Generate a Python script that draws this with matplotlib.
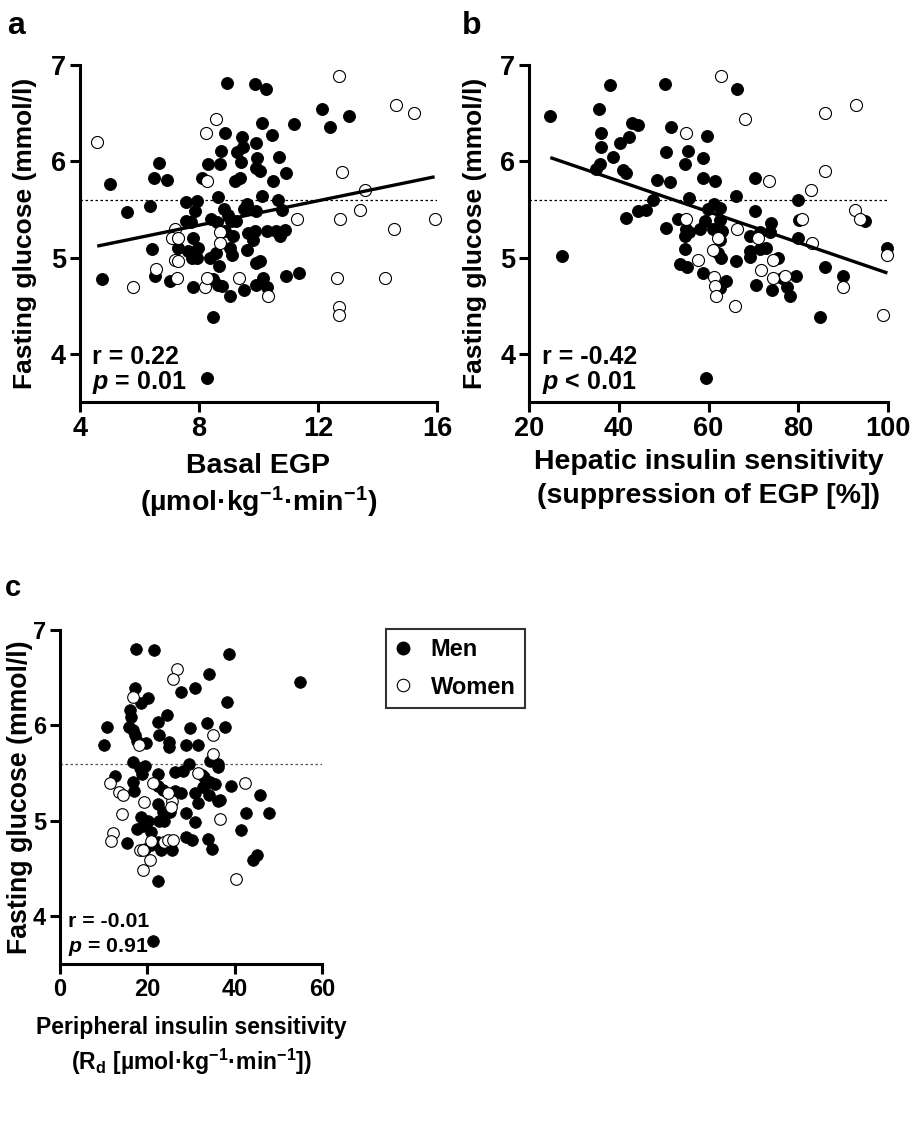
import matplotlib
matplotlib.use("Agg")
import matplotlib.pyplot as plt
from matplotlib.lines import Line2D
from matplotlib import font_manager
import numpy as np

plt.rcParams['font.family'] = ['Liberation Sans', 'DejaVu Sans']
plt.rcParams['font.weight'] = 'bold'
plt.rcParams['mathtext.fontset'] = 'custom'
plt.rcParams['mathtext.rm'] = 'Liberation Sans:bold'
plt.rcParams['mathtext.bf'] = 'Liberation Sans:bold'
plt.rcParams['mathtext.it'] = 'Liberation Sans:italic:bold'
plt.rcParams['mathtext.default'] = 'rm'

# ---- panel a: basal EGP vs fasting glucose ----
men_a_x = [8.93, 9.89, 10.24, 12.13, 12.42, 13.05, 11.19, 10.12, 10.47, 8.87, 9.44, 9.49,
           9.93, 8.74, 9.29, 9.94, 10.69, 8.32, 8.72, 9.42, 9.93, 10.05, 10.91, 6.65, 6.50,
           6.91, 5.01, 8.11, 9.21, 9.39, 10.49, 10.11, 8.63, 7.55, 7.94, 10.65, 6.35, 5.57,
           7.88, 8.83, 9.60, 9.52, 9.91, 10.78, 8.96, 9.07, 9.24, 8.42, 7.73, 7.58, 8.61,
           9.89, 9.66, 8.87, 10.27, 10.60, 10.88, 9.15, 9.80, 10.72, 7.81, 7.31, 7.98, 6.41,
           9.03, 7.64, 9.62, 8.56, 9.12, 7.77, 7.95, 8.37, 9.91, 10.05, 8.67, 6.52, 4.75,
           7.03, 8.48, 8.65, 8.76, 7.81, 9.04, 9.52, 10.15, 9.93, 10.27, 10.91, 11.37, 8.46,
           8.28]
men_a_y = [6.81, 6.80, 6.75, 6.54, 6.36, 6.47, 6.39, 6.40, 6.27, 6.29, 6.25, 6.15,
           6.19, 6.11, 6.10, 6.04, 6.05, 5.97, 5.97, 5.99, 5.93, 5.90, 5.88, 5.98, 5.83,
           5.81, 5.77, 5.83, 5.80, 5.83, 5.80, 5.64, 5.63, 5.58, 5.59, 5.60, 5.54, 5.47,
           5.48, 5.51, 5.56, 5.51, 5.48, 5.50, 5.44, 5.38, 5.38, 5.40, 5.37, 5.38, 5.37,
           5.28, 5.26, 5.28, 5.28, 5.28, 5.29, 5.22, 5.18, 5.22, 5.20, 5.10, 5.10, 5.09,
           5.10, 5.07, 5.08, 5.05, 5.03, 5.00, 5.00, 5.00, 4.94, 4.97, 4.91, 4.81, 4.78,
           4.76, 4.78, 4.72, 4.71, 4.70, 4.60, 4.66, 4.79, 4.72, 4.70, 4.81, 4.84, 4.38,
           3.75]
women_a_x = [4.58, 12.71, 14.63, 15.23, 8.57, 8.25, 8.28, 12.81, 13.57, 13.40, 11.31, 12.73,
             15.92, 14.55, 7.21, 7.10, 7.30, 8.70, 8.70, 7.19, 7.30, 6.55, 7.27, 5.79, 8.19,
             8.28, 9.35, 10.31, 12.64, 14.24, 12.71, 12.71]
women_a_y = [6.20, 6.89, 6.59, 6.50, 6.44, 6.30, 5.80, 5.89, 5.70, 5.50, 5.40, 5.40,
             5.40, 5.30, 5.30, 5.20, 5.20, 5.27, 5.15, 4.98, 4.97, 4.88, 4.79, 4.70, 4.70,
             4.79, 4.79, 4.60, 4.79, 4.79, 4.49, 4.40]
fit_a = (0.0635, 4.829)   # slope, intercept

# ---- panel b: hepatic insulin sensitivity ----
men_b_x = [24.75, 27.28, 37.98, 50.39, 66.43, 35.60, 36.12, 35.97, 35.75, 35.01, 40.21, 42.21,
           42.88, 44.37, 38.63, 40.88, 41.71, 51.56, 59.75, 50.46, 55.37, 54.70, 58.78, 48.58,
           51.35, 58.86, 61.46, 70.30, 55.67, 66.21, 79.95, 47.56, 46.15, 44.29, 41.55, 59.90,
           61.26, 62.50, 70.45, 80.17, 94.89, 53.28, 59.15, 62.65, 74.01, 50.46, 54.92, 55.67,
           58.04, 61.00, 63.09, 71.41, 73.63, 54.70, 62.65, 69.18, 79.95, 54.70, 62.12, 62.87,
           69.33, 71.41, 72.90, 99.75, 69.18, 66.06, 75.49, 53.58, 55.29, 85.90, 58.86, 62.50,
           63.98, 70.52, 74.09, 76.32, 77.58, 78.11, 79.58, 89.99, 84.78, 59.52]
men_b_y = [6.47, 5.02, 6.79, 6.80, 6.75, 6.54, 6.29, 6.15, 5.97, 5.92, 6.19, 6.25,
           6.40, 6.38, 6.05, 5.91, 5.88, 6.36, 6.26, 6.10, 6.11, 5.97, 6.04, 5.81,
           5.79, 5.83, 5.80, 5.83, 5.62, 5.64, 5.60, 5.60, 5.49, 5.48, 5.41, 5.51,
           5.56, 5.52, 5.48, 5.39, 5.38, 5.40, 5.38, 5.39, 5.36, 5.31, 5.30, 5.27,
           5.30, 5.30, 5.28, 5.27, 5.27, 5.23, 5.18, 5.22, 5.20, 5.09, 5.05, 5.00,
           5.07, 5.09, 5.10, 5.10, 5.01, 4.96, 5.00, 4.93, 4.90, 4.90, 4.84, 4.68,
           4.76, 4.72, 4.66, 4.79, 4.69, 4.60, 4.81, 4.81, 4.38, 3.75]
women_b_x = [62.87, 68.14, 55.07, 92.81, 85.90, 73.42, 85.90, 82.78, 55.07, 92.73, 93.70, 80.92,
             66.36, 62.12, 71.04, 83.15, 61.01, 57.67, 74.41, 71.78, 61.23, 74.26, 76.98, 61.38,
             61.75, 65.84, 89.99, 99.86, 98.90]
women_b_y = [6.89, 6.44, 6.30, 6.59, 6.50, 5.80, 5.90, 5.70, 5.40, 5.49, 5.40, 5.40,
             5.30, 5.20, 5.20, 5.15, 5.08, 4.98, 4.98, 4.87, 4.80, 4.79, 4.81, 4.71,
             4.60, 4.50, 4.70, 5.03, 4.40]
fit_b = (-0.01597, 6.435)

# ---- panel c: peripheral insulin sensitivity ----
men_c_x = [17.52, 21.58, 38.64, 54.86, 34.05, 30.83, 27.70, 17.14, 20.05, 18.52, 38.25, 15.99,
           16.37, 24.56, 22.34, 33.58, 10.79, 29.76, 37.87, 15.84, 16.76, 17.29, 22.72, 10.10,
           17.75, 19.59, 25.02, 24.94, 28.84, 31.68, 16.76, 19.51, 29.46, 34.44, 36.12, 36.12,
           12.55, 18.28, 18.89, 22.49, 26.32, 28.23, 32.44, 32.98, 16.76, 34.44, 35.59, 39.10,
           17.06, 22.34, 23.64, 26.24, 27.70, 30.83, 32.75, 34.13, 45.83, 36.20, 36.66, 22.49,
           31.60, 23.64, 25.17, 28.77, 42.62, 47.97, 17.67, 18.67, 19.05, 20.20, 20.96, 22.72,
           23.80, 30.83, 41.54, 28.84, 30.14, 33.90, 15.38, 20.96, 19.43, 22.49, 23.11, 25.55,
           34.89, 44.30, 45.14, 22.49, 21.19]
men_c_y = [6.80, 6.79, 6.75, 6.46, 6.54, 6.39, 6.35, 6.39, 6.29, 6.24, 6.25, 6.16,
           6.09, 6.11, 6.04, 6.03, 5.98, 5.97, 5.98, 5.98, 5.95, 5.90, 5.90, 5.80,
           5.84, 5.82, 5.83, 5.77, 5.80, 5.80, 5.62, 5.58, 5.60, 5.63, 5.60, 5.56,
           5.47, 5.55, 5.49, 5.49, 5.51, 5.52, 5.48, 5.46, 5.41, 5.41, 5.39, 5.37,
           5.31, 5.37, 5.32, 5.31, 5.29, 5.29, 5.35, 5.27, 5.27, 5.21, 5.22, 5.18,
           5.19, 5.09, 5.09, 5.08, 5.08, 5.08, 4.91, 5.04, 4.95, 5.00, 4.88, 5.00,
           5.00, 4.99, 4.90, 4.83, 4.80, 4.81, 4.77, 4.75, 4.71, 4.78, 4.69, 4.69,
           4.71, 4.59, 4.64, 4.37, 3.74]
women_c_x = [26.71, 25.78, 16.76, 18.13, 35.12, 35.12, 31.52, 11.55, 21.19, 42.39, 13.47, 14.46,
             19.28, 25.71, 25.40, 24.79, 14.15, 36.66, 12.17, 11.62, 18.28, 19.05, 20.58, 19.05,
             23.80, 24.79, 25.94, 20.96, 40.32]
women_c_y = [6.59, 6.49, 6.30, 5.79, 5.90, 5.70, 5.50, 5.40, 5.40, 5.40, 5.30, 5.27,
             5.20, 5.21, 5.15, 5.29, 5.07, 5.02, 4.87, 4.79, 4.69, 4.69, 4.59, 4.49,
             4.78, 4.80, 4.80, 4.79, 4.39]

cutoff = 5.6
yticks = [4, 5, 6, 7]

# panel c in the source uses a condensed face
installed = {f.name for f in font_manager.fontManager.ttflist}
if 'Liberation Sans Narrow' in installed:
    narrow = ['Liberation Sans Narrow']
    nscale = 1.0
else:
    narrow = ['Liberation Sans']
    nscale = 0.85

fig = plt.figure(figsize=(9.14, 11.23), dpi=100)
ax_a = fig.add_axes([0.0875, 0.642, 0.3906, 0.300])
ax_b = fig.add_axes([0.5788, 0.642, 0.3928, 0.300])
ax_c = fig.add_axes([0.0656, 0.1416, 0.2867, 0.2974])


def style(ax, xlim, xticks, tsize, family):
    ax.set_xlim(*xlim)
    ax.set_ylim(3.5, 7)
    ax.set_xticks(xticks)
    ax.set_yticks(yticks)
    for s in ['top', 'right']:
        ax.spines[s].set_visible(False)
    for s in ['left', 'bottom']:
        ax.spines[s].set_linewidth(2.2)
    ax.tick_params(direction='out', length=7, width=2.2, labelsize=tsize, pad=3)
    for lab in ax.get_xticklabels() + ax.get_yticklabels():
        lab.set_fontweight('bold')
        lab.set_family(family)


def scatter(ax, mx, my, wx, wy, s, lc='black'):
    ax.axhline(cutoff, color=lc, lw=0.9, ls=(0, (2, 2)), zorder=1)
    ax.scatter(mx, my, s=s, color='black', edgecolors='black', linewidths=0.6, zorder=3, clip_on=False)
    ax.scatter(wx, wy, s=s, facecolors='white', edgecolors='black', linewidths=0.8, zorder=4, clip_on=False)


def fitline(ax, fit, xs):
    x0, x1 = min(xs), max(xs)
    xx = np.array([x0, x1])
    ax.plot(xx, fit[0] * xx + fit[1], color='black', lw=2.4, zorder=5, solid_capstyle='butt')


wide = ['Liberation Sans', 'DejaVu Sans']

# panel a
scatter(ax_a, men_a_x, men_a_y, women_a_x, women_a_y, 75)
fitline(ax_a, fit_a, men_a_x + women_a_x)
style(ax_a, (4, 16), [4, 8, 12, 16], 19.5, wide)
ax_a.set_ylabel('Fasting glucose (mmol/l)', fontsize=19, fontweight='bold')
ax_a.yaxis.set_label_coords(-0.12, 0.5)
ax_a.set_xlabel('Basal EGP\n(µmol·kg$^{-1}$·min$^{-1}$)', fontsize=20.5, fontweight='bold', linespacing=1.25)
ax_a.xaxis.set_label_coords(0.5, -0.15)
ax_a.text(0.035, 0.134, 'r = 0.22', transform=ax_a.transAxes, fontsize=18, fontweight='bold', va='center')
ax_a.text(0.035, 0.059, '$\\mathit{p}$ = 0.01', transform=ax_a.transAxes, fontsize=18, fontweight='bold', va='center')

# panel b
scatter(ax_b, men_b_x, men_b_y, women_b_x, women_b_y, 75)
fitline(ax_b, fit_b, men_b_x + women_b_x)
style(ax_b, (20, 100), [20, 40, 60, 80, 100], 19.5, wide)
ax_b.set_ylabel('Fasting glucose (mmol/l)', fontsize=19, fontweight='bold')
ax_b.yaxis.set_label_coords(-0.117, 0.5)
ax_b.set_xlabel('Hepatic insulin sensitivity\n(suppression of EGP [%])', fontsize=20.5, fontweight='bold', linespacing=1.4)
ax_b.xaxis.set_label_coords(0.5, -0.14)
ax_b.text(0.035, 0.134, 'r = -0.42', transform=ax_b.transAxes, fontsize=18, fontweight='bold', va='center')
ax_b.text(0.035, 0.059, '$\\mathit{p}$ < 0.01', transform=ax_b.transAxes, fontsize=18, fontweight='bold', va='center')

# panel c
scatter(ax_c, men_c_x, men_c_y, women_c_x, women_c_y, 70, lc='#555555')
style(ax_c, (0, 60), [0, 20, 40, 60], 20 * nscale, narrow)
ax_c.set_ylabel('Fasting glucose (mmol/l)', fontsize=22.5 * nscale, fontweight='bold', family=narrow)
ax_c.yaxis.set_label_coords(-0.103, 0.5)
ax_c.set_xlabel('Peripheral insulin sensitivity\n(R$_\\mathrm{d}$ [µmol·kg$^{-1}$·min$^{-1}$])',
                fontsize=19.5 * nscale, fontweight='bold', linespacing=1.35, family=narrow)
ax_c.xaxis.set_label_coords(0.5, -0.155)
ax_c.text(0.031, 0.126, 'r = -0.01', transform=ax_c.transAxes, fontsize=18 * nscale, fontweight='bold',
          va='center', family=narrow)
ax_c.text(0.031, 0.051, '$\\mathit{p}$ = 0.91', transform=ax_c.transAxes, fontsize=18 * nscale, fontweight='bold',
          va='center', family=narrow)

# legend
handles = [Line2D([], [], ls='none', marker='o', ms=9, mfc='black', mec='black'),
           Line2D([], [], ls='none', marker='o', ms=9, mfc='white', mec='black', mew=0.8)]
leg = fig.legend(handles, ['Men', 'Women'], loc='upper left', bbox_to_anchor=(0.4223, 0.4399),
                 borderaxespad=0, frameon=True, fancybox=False, edgecolor='black',
                 prop={'size': 20 * nscale, 'weight': 'bold', 'family': narrow},
                 handletextpad=0.9, borderpad=0.4, labelspacing=0.6, handlelength=0.6)
leg.get_frame().set_linewidth(1.5)

# panel letters
fig.text(0.008, 0.99, 'a', fontsize=23, fontweight='bold', va='top')
fig.text(0.505, 0.99, 'b', fontsize=23, fontweight='bold', va='top')
fig.text(0.005, 0.489, 'c', fontsize=21, fontweight='bold', va='top', family=narrow)

fig.savefig('out.png', dpi=100)
